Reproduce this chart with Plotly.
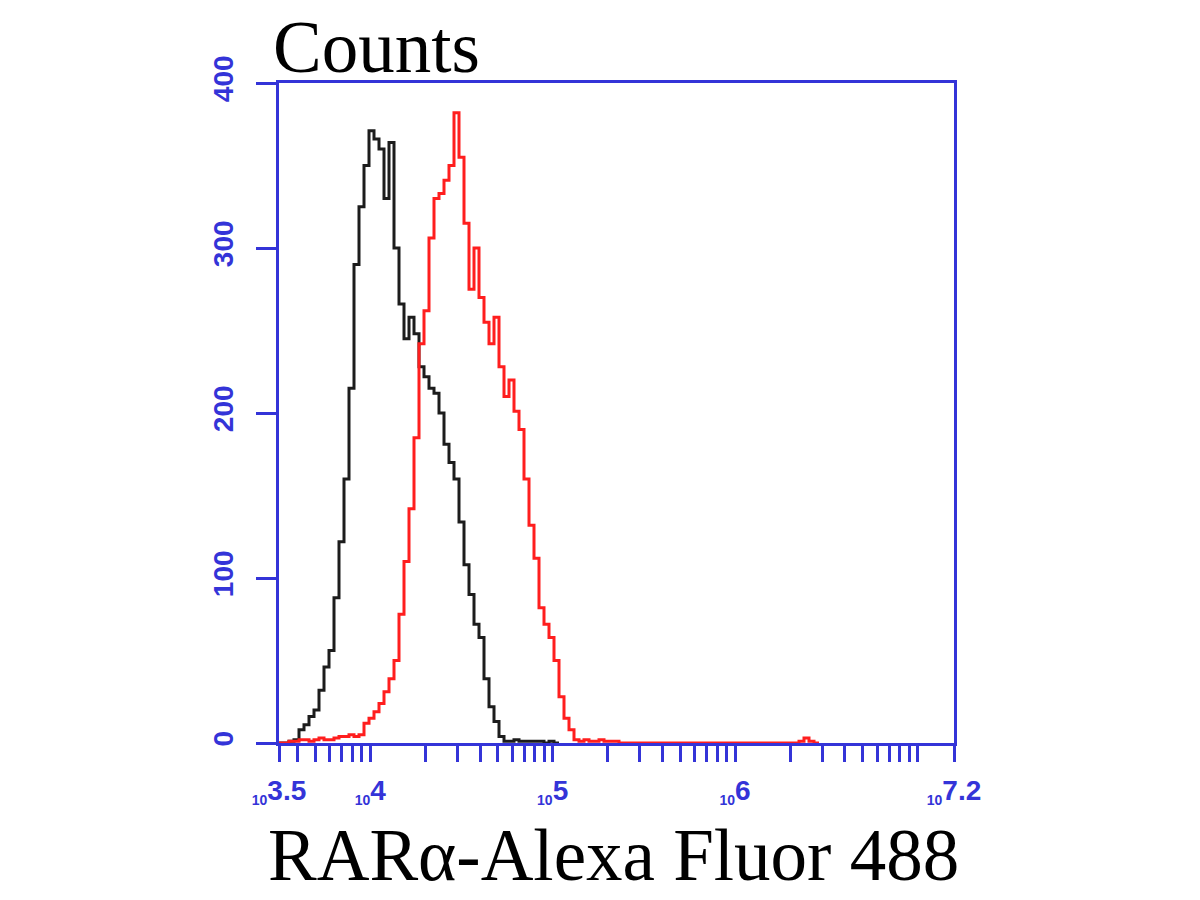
import plotly.graph_objects as go

# ---- data ----
LOG_START = 3.5          # left edge of first channel (log10 units)
LOG_END = 7.2
N_CHANNELS = 135         # channel grid across the axis
control_counts = [0, 0, 1, 2, 8, 11, 16, 20, 32, 46, 56, 88, 122, 160, 215, 290, 325, 350,
                  371, 366, 360, 330, 364, 300, 266, 245, 258, 248, 228, 222, 215, 212, 200,
                  181, 170, 160, 134, 108, 90, 72, 64, 39, 22, 13, 4, 1, 1, 2, 1, 1, 1, 1, 1, 0, 1, 0]
rara_counts = [0, 0, 1, 1, 2, 2, 1, 2, 3, 2, 2, 3, 4, 4, 5, 4, 5, 12, 15, 19, 24, 31, 39, 50,
               78, 110, 142, 185, 242, 262, 306, 330, 333, 341, 350, 382, 355, 315, 275, 300,
               270, 255, 242, 258, 228, 210, 220, 201, 190, 160, 132, 112, 82, 72, 64, 50, 28,
               15, 8, 2, 1, 2, 1, 1, 2, 1, 1, 1, 0, 0, 0, 0, 0, 0, 0, 0, 0, 0, 0, 0, 0, 0, 0,
               0, 0, 0, 0, 0, 0, 0, 0, 0, 0, 0, 0, 0, 0, 0, 0, 0, 0, 0, 0, 0, 1, 3, 1, 0]
y_ticks = [0, 100, 200, 300, 400]
x_major_exps = [3.5, 4, 5, 6, 7.2]
x_major_labels = ["3.5", "4", "5", "6", "7.2"]
x_minor_vals = [m * 10 ** d for d in (3, 4, 5, 6) for m in range(2, 11)
                if 10 ** 3.5 < m * 10 ** d < 10 ** 7.2 and m * 10 ** d not in (1e4, 1e5, 1e6)]

BLUE = "#3434d8"
width = (LOG_END - LOG_START) / N_CHANNELS


def step_xy(counts):
    xs, ys = [], []
    for i, c in enumerate(counts):
        xs.append(10 ** (LOG_START + i * width))
        ys.append(c)
    xs.append(10 ** (LOG_START + len(counts) * width))
    ys.append(counts[-1])
    return xs, ys


fig = go.Figure()
bx, by = step_xy(control_counts)
rx, ry = step_xy(rara_counts)
fig.add_trace(go.Scatter(x=bx, y=by, mode="lines", line=dict(color="#1c1c1c", width=3, shape="hv"),
                         showlegend=False))
fig.add_trace(go.Scatter(x=rx, y=ry, mode="lines", line=dict(color="#ff1e1e", width=3, shape="hv"),
                         showlegend=False))

tickvals = [10 ** e for e in x_major_exps]
ticktext = ["<sub><span style='font-size:14px'>10</span></sub>" + t for t in x_major_labels]

fig.update_layout(
    width=1200, height=900,
    margin=dict(l=271, r=254, t=75, b=165),
    plot_bgcolor="white", paper_bgcolor="white",
    xaxis=dict(type="log", range=[LOG_START, LOG_END], tickvals=tickvals, ticktext=ticktext,
               showgrid=False, zeroline=False, showline=True, linecolor=BLUE, linewidth=3,
               mirror=True, ticks="outside", ticklen=16, tickwidth=3, tickcolor=BLUE,
               tickangle=0, ticklabelstandoff=4,
               minor=dict(tickmode="array", tickvals=x_minor_vals, ticks="outside",
                          ticklen=16, tickwidth=3, tickcolor=BLUE, showgrid=False),
               tickfont=dict(family="Liberation Sans Narrow, Arial Narrow, Liberation Sans",
                             size=28, color=BLUE, weight="bold")),
    yaxis=dict(range=[0, 400], tickvals=y_ticks, showgrid=False, zeroline=False,
               showline=True, linecolor=BLUE, linewidth=3, mirror=True,
               ticks="outside", ticklen=20, tickwidth=3, tickcolor=BLUE, tickangle=-90,
               ticklabelstandoff=12,
               tickfont=dict(family="Liberation Sans Narrow, Arial Narrow, Liberation Sans",
                             size=28, color=BLUE, weight="bold")),
    annotations=[
        dict(text="Counts", xref="paper", yref="paper", x=-0.012, y=1.118,
             xanchor="left", yanchor="top", showarrow=False,
             font=dict(family="Liberation Serif, Times New Roman", size=73, color="black")),
        dict(text="RARα-Alexa Fluor 488", xref="paper", yref="paper", x=0.495, y=-0.171,
             xanchor="center", yanchor="middle", showarrow=False,
             font=dict(family="Liberation Serif, Times New Roman", size=73, color="black")),
    ],
)

fig.write_html("out.html")
